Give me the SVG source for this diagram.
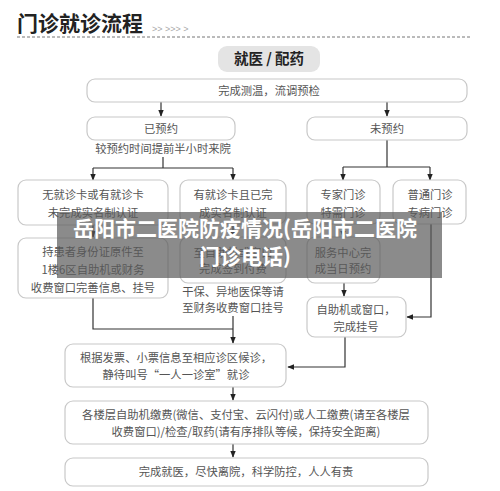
<svg xmlns="http://www.w3.org/2000/svg" width="500" height="491" viewBox="0 0 500 491">
<defs>
<style>
.bx{fill:#fff;stroke:#c8c8c8;stroke-width:1.2}
.t{font-family:"Noto Sans CJK SC","Noto Sans",sans-serif;font-size:11.3px;fill:#555;text-anchor:middle}
.ln{fill:none;stroke:#333;stroke-width:1.2}
</style>
<marker id="ah" viewBox="0 0 10 10" refX="9" refY="5" markerWidth="6" markerHeight="6" orient="auto">
<path d="M0,1 L10,5 L0,9 z" fill="#222"/>
</marker>
</defs>
<rect width="500" height="491" fill="#fff"/>
<g id="title">
<text x="17" y="31" font-family="'Noto Sans CJK SC',sans-serif" font-size="21" font-weight="bold" fill="#222">门诊就诊流程</text>
<text x="152" y="32" font-family="'Liberation Sans',sans-serif" font-size="9" fill="#aaa">&gt;&gt;  &gt;&gt;&gt;  &gt;</text>
<line x1="17" y1="37" x2="470" y2="37" stroke="#777" stroke-width="1" stroke-dasharray="3,2"/>
</g>
<g id="header">
<rect x="218" y="46" width="102" height="26" rx="9" fill="#e4e4e4"/>
<text x="269" y="64" font-family="'Noto Sans CJK SC',sans-serif" font-size="14.5" font-weight="bold" fill="#222" text-anchor="middle">就医 / 配药</text>
</g>
<g id="connectors">
<line class="ln" x1="161" y1="102" x2="161" y2="116" marker-end="url(#ah)"/>
<line class="ln" x1="387" y1="102" x2="387" y2="116" marker-end="url(#ah)"/>
<polyline class="ln" points="163,157 163,168"/>
<polyline class="ln" points="93,168 233,168"/>
<line class="ln" x1="93" y1="168" x2="93" y2="180" marker-end="url(#ah)"/>
<line class="ln" x1="233" y1="168" x2="233" y2="180" marker-end="url(#ah)"/>
<polyline class="ln" points="387,140 387,167"/>
<polyline class="ln" points="343,167 430,167"/>
<line class="ln" x1="343" y1="167" x2="343" y2="180" marker-end="url(#ah)"/>
<line class="ln" x1="430" y1="167" x2="430" y2="180" marker-end="url(#ah)"/>
<line class="ln" x1="93" y1="225" x2="93" y2="237" marker-end="url(#ah)"/>
<line class="ln" x1="233" y1="224" x2="233" y2="237" marker-end="url(#ah)"/>
<line class="ln" x1="343" y1="224" x2="343" y2="237" marker-end="url(#ah)"/>
<line class="ln" x1="344" y1="283" x2="344" y2="296" marker-end="url(#ah)"/>
<polyline class="ln" points="431,224 431,317 407,317" marker-end="url(#ah)"/>
<polyline class="ln" points="93,298 93,329 233,329"/>
<line class="ln" x1="233" y1="316" x2="233" y2="343" marker-end="url(#ah)"/>
<polyline class="ln" points="345,337 345,367 288,367" marker-end="url(#ah)"/>
<line class="ln" x1="233" y1="387" x2="233" y2="400" marker-end="url(#ah)"/>
<line class="ln" x1="233" y1="444" x2="233" y2="457" marker-end="url(#ah)"/>
</g>
<g id="n1"><rect class="bx" x="87" y="79" width="380" height="23" rx="8"/><text class="t" x="269" y="95">完成测温，流调预检</text></g>
<g id="n2"><rect class="bx" x="87" y="117" width="148" height="23" rx="8"/><text class="t" x="161" y="133">已预约</text></g>
<g id="n2note"><text class="t" x="163" y="153" font-size="10.5">较预约时间提前半小时来院</text></g>
<g id="n3"><rect class="bx" x="307" y="117" width="160" height="23" rx="8"/><text class="t" x="387" y="133">未预约</text></g>
<g id="n4"><rect class="bx" x="18" y="180" width="150" height="45" rx="8"/><text class="t" x="93" y="199">无就诊卡或有就诊卡</text><text class="t" x="93" y="217">未完成实名制认证</text></g>
<g id="n5"><rect class="bx" x="180" y="180" width="106" height="44" rx="8"/><text class="t" x="233" y="199">有就诊卡且已完</text><text class="t" x="233" y="217">成实名制认证</text></g>
<g id="n6"><rect class="bx" x="307" y="180" width="73" height="44" rx="8"/><text class="t" x="343" y="199">专家门诊</text><text class="t" x="343" y="217">特需门诊</text></g>
<g id="n7"><rect class="bx" x="393" y="180" width="73" height="44" rx="8"/><text class="t" x="430" y="199">普通门诊</text><text class="t" x="430" y="217">专病门诊</text></g>
<g id="n8"><rect class="bx" x="18" y="238" width="150" height="60" rx="8"/><text class="t" x="93" y="256">持患者身份证原件至</text><text class="t" x="93" y="274">1楼6区自助机或财务</text><text class="t" x="93" y="292">收费窗口完善信息、挂号</text></g>
<g id="n9"><rect class="bx" x="180" y="237" width="106" height="46" rx="8"/><text class="t" x="233" y="257">至自助机或窗口</text><text class="t" x="233" y="273">完成签到付费</text></g>
<g id="n9note"><text class="t" x="233" y="296" font-size="10.5">干保、异地医保等请</text><text class="t" x="233" y="312" font-size="10.5">至财务收费窗口挂号</text></g>
<g id="n10"><rect class="bx" x="307" y="237" width="73" height="46" rx="8"/><text class="t" x="343" y="257">服务中心完</text><text class="t" x="343" y="273">成当日预约</text></g>
<g id="n11"><rect class="bx" x="307" y="297" width="99" height="40" rx="8"/><text class="t" x="356" y="314">自助机或窗口，</text><text class="t" x="356" y="331">完成挂号</text></g>
<g id="n12"><rect class="bx" x="65" y="344" width="221" height="43" rx="8"/><text class="t" x="176" y="362">根据发票、小票信息至相应诊区候诊，</text><text class="t" x="176" y="379">静待叫号“一人一诊室”就诊</text></g>
<g id="n13"><rect class="bx" x="65" y="401" width="363" height="43" rx="8"/><text class="t" x="246" y="419">各楼层自助机缴费(微信、支付宝、云闪付)或人工缴费(请至各楼层</text><text class="t" x="246" y="436">收费窗口)/检查/取药(请有序排队等候，保持安全距离)</text></g>
<g id="n14"><rect class="bx" x="65" y="458" width="363" height="28" rx="8"/><text class="t" x="246" y="476">完成就医，尽快离院，科学防控，人人有责</text></g>
<g id="banner">
<rect x="57" y="212" width="385" height="66" fill="#5a5a5a" opacity="0.7"/>
<text x="245" y="236" font-family="'Noto Sans CJK SC',sans-serif" font-size="21" font-weight="bold" fill="#fff" text-anchor="middle">岳阳市二医院防疫情况(岳阳市二医院</text>
<text x="245" y="264" font-family="'Noto Sans CJK SC',sans-serif" font-size="21" font-weight="bold" fill="#fff" text-anchor="middle">门诊电话)</text>
</g>
</svg>
